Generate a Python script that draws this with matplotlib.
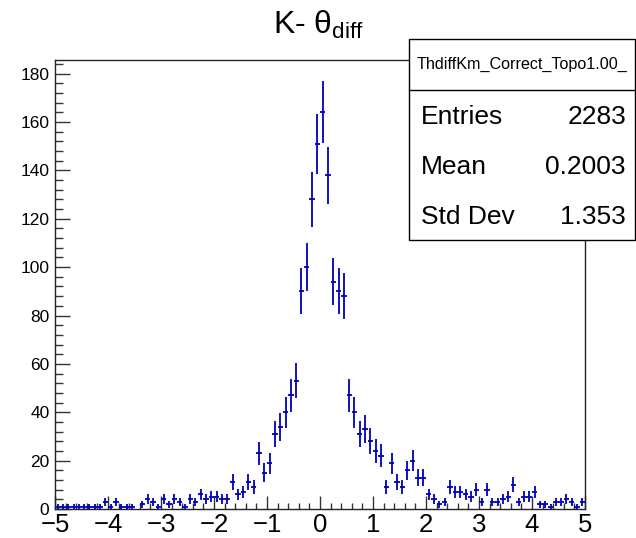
import numpy as np
import matplotlib
matplotlib.use("Agg")
import matplotlib.pyplot as plt
from matplotlib.patches import Rectangle
from matplotlib.lines import Line2D
from matplotlib.ticker import MultipleLocator

plt.rcParams["font.family"] = ["Liberation Sans", "DejaVu Sans"]
plt.rcParams["mathtext.fontset"] = "custom"
plt.rcParams["mathtext.rm"] = "Liberation Sans"
plt.rcParams["mathtext.it"] = "Liberation Sans:italic"

# Histogram definition: 100 bins over [-5, 5]
x_min, x_max, n_bins = -5.0, 5.0, 100

# Bin contents, left to right
counts = [
    1, 1, 1, 1, 1, 1, 1, 1, 1, 3,
    1, 3, 1, 1, 1, 0, 2, 4, 3, 1,
    4, 2, 4, 3, 1, 4, 3, 6, 4, 5,
    5, 4, 4, 11, 6, 7, 11, 9, 23, 15,
    19, 31, 34, 40, 47, 53, 90, 100, 128, 151,
    164, 138, 94, 90, 88, 47, 40, 31, 33, 28,
    24, 22, 9, 19, 11, 9, 16, 20, 13, 13,
    6, 4, 2, 3, 9, 7, 7, 6, 5, 8,
    3, 8, 3, 3, 4, 5, 10, 3, 5, 5,
    7, 2, 2, 1, 3, 3, 4, 3, 1, 3,
]

hist_name = "ThdiffKm_Correct_Topo1.00_"
stat_labels = ["Entries", "Mean", "Std Dev"]
stat_values = ["2283", "0.2003", "1.353"]

edges = np.linspace(x_min, x_max, n_bins + 1)
centers = 0.5 * (edges[:-1] + edges[1:])
half_w = 0.5 * (edges[1] - edges[0])
counts = np.asarray(counts, dtype=float)
errors = np.sqrt(counts)
filled = counts > 0

W, H = 636, 538
fig = plt.figure(figsize=(W / 100, H / 100), dpi=100)
fig.patch.set_facecolor("white")

ax_l, ax_r, ax_t, ax_b = 55, 585, 60, 509
ax = fig.add_axes([ax_l / W, 1 - ax_b / H, (ax_r - ax_l) / W, (ax_b - ax_t) / H])

blue = "#0000bb"
ax.errorbar(centers[filled], counts[filled], yerr=errors[filled],
            xerr=half_w, fmt="none", ecolor=blue, elinewidth=1.3, capsize=0)

ymax = (counts + errors).max() * 1.05
ax.set_xlim(x_min, x_max)
ax.set_ylim(0, ymax)

ax.xaxis.set_major_locator(MultipleLocator(1))
ax.xaxis.set_minor_locator(MultipleLocator(0.2))
ax.yaxis.set_major_locator(MultipleLocator(20))
ax.yaxis.set_minor_locator(MultipleLocator(4))

ax.tick_params(axis="both", which="both", direction="in", top=False, right=False,
               width=1, color="#333333")
ax.tick_params(axis="y", which="major", length=11, labelsize=12.5, pad=4)
ax.tick_params(axis="y", which="minor", length=5.5)
ax.tick_params(axis="x", which="major", length=9.5, labelsize=18.5, pad=3)
ax.tick_params(axis="x", which="minor", length=4.5)

for side in ["left", "right", "top", "bottom"]:
    ax.spines[side].set_linewidth(1)
    ax.spines[side].set_color("#222222")

fig.text(318 / W, 1 - 25 / H, r"K- $\mathrm{\theta}_{\mathrm{diff}}$",
         ha="center", va="center", fontsize=23)

# Statistics box
bx0, bx1, by0, by1, bsep = 409, 635, 39, 240, 90
fig.patches.append(Rectangle((bx0 / W, 1 - by1 / H), (bx1 - bx0) / W, (by1 - by0) / H,
                             transform=fig.transFigure, facecolor="white",
                             edgecolor="black", linewidth=1, zorder=5))
fig.lines.append(Line2D([bx0 / W, bx1 / W], [1 - bsep / H, 1 - bsep / H],
                        transform=fig.transFigure, color="black", linewidth=1, zorder=6))
fig.text((bx0 + bx1) / 2 / W, 1 - 64 / H, hist_name, ha="center", va="center",
         fontsize=11.6, zorder=7)
row_y = [117, 167, 217]
for lab, val, yy in zip(stat_labels, stat_values, row_y):
    fig.text(421 / W, 1 - yy / H, lab, ha="left", va="center", fontsize=19, zorder=7)
    fig.text(626 / W, 1 - yy / H, val, ha="right", va="center", fontsize=19, zorder=7)

fig.savefig("out.png", dpi=100, facecolor="white")
